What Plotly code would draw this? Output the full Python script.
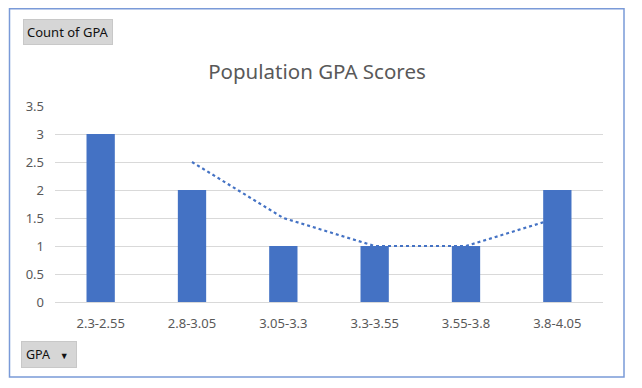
import plotly.graph_objects as go

categories = ["2.3-2.55", "2.8-3.05", "3.05-3.3", "3.3-3.55", "3.55-3.8", "3.8-4.05"]
counts = [3, 2, 1, 1, 1, 2]
moving_avg = [None, 2.5, 1.5, 1, 1, 1.5]
y_ticks = [0, 0.5, 1, 1.5, 2, 2.5, 3, 3.5]

# the page body adds an 8px margin, so the figure is drawn 8px smaller
OFF = 8
W, H = 642 - OFF, 388 - OFF
blue = "#4472C4"
grey_txt = "#595959"
font_family = "Noto Sans, Liberation Sans, sans-serif"

PL, PR, PT, PB = 55 - OFF, 603 - OFF, 106 - OFF, 302 - OFF  # plot area in figure px
PW, PH = PR - PL, PB - PT


def px(x):
    return (x - OFF - PL) / PW


def py(y):
    return (PB - (y - OFF)) / PH


fig = go.Figure()
fig.add_trace(go.Scatter(
    x=categories, y=moving_avg, mode="lines",
    line=dict(color=blue, width=2.2, dash="dot"),
    connectgaps=False, yaxis="y", hoverinfo="skip", showlegend=False))
fig.add_trace(go.Bar(
    x=categories, y=counts, marker=dict(color=blue, line=dict(width=0)),
    width=0.31, yaxis="y2", showlegend=False))

fig.update_layout(
    width=W, height=H, autosize=False,
    margin=dict(l=PL, r=W - PR, t=PT, b=H - PB, autoexpand=False),
    paper_bgcolor="white", plot_bgcolor="white",
    font=dict(family=font_family, color=grey_txt, size=12),
    title=dict(text="Population GPA Scores", xref="paper", x=px(317), xanchor="center",
               yref="container", y=1 - (72 - OFF) / H, yanchor="middle",
               font=dict(size=20.5, color=grey_txt, family=font_family)),
    xaxis=dict(type="category", showgrid=False, zeroline=False, automargin=False,
               showline=True, linecolor="#d9d9d9", linewidth=1,
               ticks="", tickfont=dict(size=13, color=grey_txt),
               ticklabelstandoff=9),
    yaxis=dict(range=[0, 3.5], tickvals=y_ticks, automargin=False,
               ticktext=[("%g" % v) for v in y_ticks],
               showgrid=True, gridcolor="#d9d9d9", gridwidth=1,
               zeroline=False, showline=False, ticks="",
               tickfont=dict(size=13, color=grey_txt),
               ticklabelstandoff=10),
    yaxis2=dict(range=[0, 3.5], overlaying="y", side="left", automargin=False,
                showgrid=False, zeroline=False, showticklabels=False,
                showline=False, ticks=""),
    shapes=[
        dict(type="rect", xref="paper", yref="paper",
             x0=px(9.5), x1=px(624), y0=py(377), y1=py(8.8),
             line=dict(color="#7a9ad8", width=1.5), fillcolor="rgba(0,0,0,0)",
             layer="below"),
    ],
    annotations=[
        dict(text="Count of GPA", xref="paper", yref="paper",
             x=px(23), y=py(32), xanchor="left", yanchor="middle",
             showarrow=False, bgcolor="#d6d6d6", bordercolor="#c8c8c8", borderwidth=1,
             borderpad=3, font=dict(size=13, color="#111111", family=font_family)),
        dict(text="GPA   <span style='font-size:9px'>▼</span> ", xref="paper", yref="paper",
             x=px(21), y=py(354), xanchor="left", yanchor="middle",
             showarrow=False, bgcolor="#d6d6d6", bordercolor="#c8c8c8", borderwidth=1,
             borderpad=4, font=dict(size=12.5, color="#111111", family=font_family)),
    ],
)

fig.write_html("out.html")
